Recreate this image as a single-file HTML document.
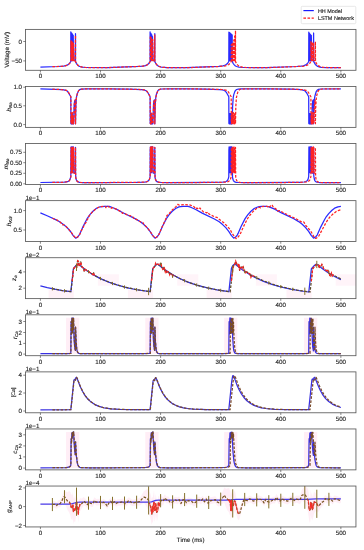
<!DOCTYPE html>
<html><head><meta charset="utf-8"><style>
html,body{margin:0;padding:0;background:#fff;overflow:hidden}
svg{display:block;will-change:transform}
text{font-family:"Liberation Sans", sans-serif;font-size:6.2px;fill:#1a1a1a;stroke:#1a1a1a;stroke-width:0.12px;text-rendering:geometricPrecision}
</style></head><body>
<svg width="364" height="550" viewBox="0 0 364 550">
<rect width="364" height="550" fill="#fff"/>
<defs><clipPath id="c0"><rect x="25.45" y="29.4" width="330.5" height="40.9"/></clipPath></defs>
<g clip-path="url(#c0)">
<path d="M40.4,67.2 58.1,66.5 63.5,66.1 65.5,65.7 67.1,65.2 68.4,64.4 69.5,63.4 70.8,61.5 70.8,31.8 71.3,60.5 71.4,60.5 71.5,56.6 71.7,33.0 72.1,60.5 72.3,60.5 72.3,56.7 72.5,34.1 73.0,60.5 73.2,35.3 73.7,60.5 75.2,60.5 75.5,33.7 75.5,61.6 76.4,63.3 77.3,64.6 78.4,65.7 79.7,66.5 82.2,67.2 85.8,67.5 108.1,67.6 138.9,66.4 142.9,66.1 145.5,65.6 147.0,64.9 148.2,64.1 149.2,63.0 150.1,61.5 150.1,31.8 150.6,60.5 150.7,60.5 150.8,56.6 151.0,33.4 151.5,60.5 151.6,60.5 151.6,56.9 151.8,34.9 152.3,60.5 152.5,36.5 153.0,60.5 154.5,60.5 154.8,33.7 154.8,61.6 156.0,63.8 157.4,65.4 159.1,66.5 161.3,67.1 167.1,67.6 186.8,67.6 218.8,66.4 222.9,65.9 225.5,65.0 227.4,63.6 228.8,61.5 228.9,32.2 229.3,60.5 229.5,60.5 229.5,56.5 229.7,32.6 230.2,60.5 230.3,60.5 230.4,56.6 230.5,33.4 231.0,60.5 231.1,60.5 231.2,56.7 231.4,34.1 231.9,60.5 232.0,60.5 232.2,34.9 232.3,61.6 233.1,63.3 234.1,64.6 235.2,65.7 236.5,66.5 239.0,67.2 242.7,67.5 266.7,67.6 296.8,66.5 300.7,66.2 303.3,65.8 305.1,65.2 306.5,64.3 307.7,63.1 308.7,61.5 308.8,32.2 309.3,60.5 309.4,60.5 309.4,56.6 309.6,33.4 310.1,60.5 310.2,60.5 310.3,56.8 310.5,34.5 310.9,60.5 311.1,60.5 311.1,56.9 311.3,35.3 311.8,60.5 313.4,60.5 313.6,33.0 313.7,61.6 315.3,64.4 316.4,65.5 317.7,66.4 319.2,66.9 321.2,67.3 326.3,67.6 340.9,67.6" fill="none" stroke="#2a2aff" stroke-width="1.25" stroke-linejoin="round"/><path d="M52.4,66.7 61.3,66.3 65.3,65.8 66.8,65.4 68.1,64.8 69.1,63.9 70.1,62.8 70.9,61.5 70.9,40.7 71.4,60.5 71.6,57.8 71.8,41.5 72.3,60.5 72.4,57.9 72.6,42.3 73.1,60.5 73.3,43.4 73.8,60.5 75.2,60.5 75.5,35.3 75.5,61.6 76.4,63.4 77.4,64.7 78.5,65.8 79.8,66.5 82.3,67.2 86.0,67.5 108.2,67.6 139.0,66.4 143.0,66.1 145.6,65.6 147.0,65.0 148.2,64.1 149.3,63.0 150.2,61.5 150.3,35.7 150.7,60.5 150.9,60.5 150.9,57.1 151.1,36.8 151.6,60.5 151.8,57.4 151.9,38.4 152.4,60.5 152.7,39.6 153.1,60.5 154.6,60.5 154.8,34.9 154.9,61.6 155.8,63.4 156.8,64.7 157.8,65.7 159.2,66.5 161.7,67.2 165.4,67.5 189.2,67.6 218.8,66.5 225.3,65.9 227.2,65.3 228.8,64.5 230.1,63.2 231.2,61.5 231.3,44.6 231.7,60.5 231.9,60.5 232.1,43.8 232.6,60.5 232.7,60.5 232.9,42.3 233.4,60.5 233.5,60.5 233.8,39.9 234.3,60.5 234.4,60.5 234.6,36.1 235.1,60.5 235.2,60.5 235.5,30.6 235.5,61.6 236.5,63.5 237.6,64.9 238.8,66.0 240.4,66.7 242.9,67.3 246.5,67.5 268.9,67.6 299.8,66.4 303.9,66.1 306.4,65.5 307.8,64.9 309.0,64.0 310.0,63.0 310.9,61.5 310.9,41.5 311.4,60.5 311.6,57.8 311.8,41.5 312.3,60.5 312.4,57.9 312.6,42.3 313.1,60.5 313.3,58.0 313.5,42.7 313.9,60.5 315.2,60.5 315.4,41.5 315.5,61.6 316.5,63.6 317.6,65.0 318.7,65.9 319.9,66.6 323.2,67.3 328.1,67.6 340.9,67.6" fill="none" stroke="#ff2222" stroke-width="1.25" stroke-dasharray="2.6,1.5" stroke-linejoin="round"/>
</g>
<rect x="25.45" y="29.4" width="330.5" height="40.9" fill="none" stroke="#5a5a5a" stroke-width="0.85"/>
<line x1="23.25" y1="41.5" x2="25.45" y2="41.5" stroke="#3a3a3a" stroke-width="0.6"/>
<text x="22.05" y="43.55" text-anchor="end">0</text>
<line x1="23.25" y1="60.9" x2="25.45" y2="60.9" stroke="#3a3a3a" stroke-width="0.6"/>
<text x="22.05" y="62.949999999999996" text-anchor="end">−50</text>
<line x1="40.42" y1="70.3" x2="40.42" y2="72.5" stroke="#3a3a3a" stroke-width="0.6"/>
<text x="40.42" y="78.3" text-anchor="middle">0</text>
<line x1="100.51" y1="70.3" x2="100.51" y2="72.5" stroke="#3a3a3a" stroke-width="0.6"/>
<text x="100.51" y="78.3" text-anchor="middle">100</text>
<line x1="160.60" y1="70.3" x2="160.60" y2="72.5" stroke="#3a3a3a" stroke-width="0.6"/>
<text x="160.60" y="78.3" text-anchor="middle">200</text>
<line x1="220.69" y1="70.3" x2="220.69" y2="72.5" stroke="#3a3a3a" stroke-width="0.6"/>
<text x="220.69" y="78.3" text-anchor="middle">300</text>
<line x1="280.78" y1="70.3" x2="280.78" y2="72.5" stroke="#3a3a3a" stroke-width="0.6"/>
<text x="280.78" y="78.3" text-anchor="middle">400</text>
<line x1="340.87" y1="70.3" x2="340.87" y2="72.5" stroke="#3a3a3a" stroke-width="0.6"/>
<text x="340.87" y="78.3" text-anchor="middle">500</text>
<text transform="translate(8.6,49.849999999999994) rotate(-90)" text-anchor="middle">Voltage (mV)</text>
<defs><clipPath id="c1"><rect x="25.45" y="86.47999999999999" width="330.5" height="40.9"/></clipPath></defs>
<g clip-path="url(#c1)">
<path d="M40.4,88.9 62.7,89.6 65.8,90.3 66.8,90.8 67.7,91.6 68.8,93.2 70.8,96.8 70.9,123.1 70.9,123.7 71.2,123.8 71.2,122.7 71.4,113.6 71.5,122.3 71.6,123.6 71.8,123.9 72.0,123.8 72.1,122.6 72.3,113.5 72.4,123.6 72.6,123.8 72.9,123.7 73.0,118.7 73.2,123.7 73.4,123.9 73.6,123.7 74.2,104.6 74.6,101.2 75.2,99.9 75.5,123.8 75.9,105.2 76.5,96.8 77.4,93.4 78.5,90.9 79.6,89.7 81.3,89.1 86.4,88.9 108.1,88.9 129.4,89.2 141.4,89.6 143.9,89.9 145.6,90.5 146.7,91.2 147.6,92.3 150.1,96.8 150.2,123.1 150.3,123.7 150.5,123.8 150.6,122.7 150.7,113.6 150.9,122.3 150.9,123.6 151.2,123.9 151.3,123.7 151.4,122.6 151.6,113.5 151.8,123.6 151.9,123.8 152.2,123.7 152.4,118.5 152.5,123.7 152.8,123.8 152.9,123.6 153.5,104.6 153.9,101.1 154.5,99.9 154.8,123.8 155.2,105.2 155.8,97.2 156.5,94.0 157.6,91.2 158.6,89.9 160.1,89.2 162.8,89.0 169.0,88.9 187.3,88.9 206.3,89.1 219.8,89.6 222.6,89.9 224.3,90.5 225.4,91.2 226.3,92.3 228.8,96.8 228.9,123.1 229.0,123.7 229.2,123.8 229.5,113.6 229.6,122.3 229.6,123.6 229.9,123.9 230.1,123.8 230.1,122.7 230.3,113.6 230.5,123.6 230.6,123.8 230.9,123.7 231.1,113.5 231.3,123.6 231.4,123.8 231.7,123.7 232.0,113.5 232.2,123.8 232.6,106.8 233.2,97.6 233.7,94.9 234.7,91.9 235.5,90.4 236.6,89.5 238.3,89.1 241.4,88.9 266.8,88.9 291.4,89.2 301.4,89.7 303.8,90.3 305.4,91.3 306.7,93.0 308.7,96.8 308.8,123.1 308.9,123.7 309.1,123.8 309.4,113.6 309.5,122.3 309.6,123.6 309.8,123.9 310.0,123.7 310.0,122.6 310.2,113.5 310.4,123.6 310.5,123.8 310.8,123.7 311.1,113.4 311.2,123.6 311.4,123.8 311.7,123.7 312.3,104.6 312.7,101.2 313.0,100.3 313.4,99.8 313.6,123.8 314.0,106.8 314.5,98.6 314.9,96.2 315.5,93.8 316.2,91.7 317.1,90.3 318.5,89.4 320.9,89.0 340.9,88.9" fill="none" stroke="#2a2aff" stroke-width="1.25" stroke-linejoin="round"/><path d="M52.4,89.2 61.8,89.6 65.7,90.2 66.9,90.7 67.9,91.6 70.2,95.3 70.9,96.8 71.0,123.1 71.1,123.8 71.3,123.2 71.6,112.7 71.7,121.8 71.7,123.5 71.9,123.8 72.1,123.8 72.1,123.3 72.4,112.5 72.6,123.5 72.8,123.8 73.0,123.2 73.2,116.6 73.3,122.8 73.4,123.8 73.6,123.6 74.3,105.2 74.6,101.6 75.2,100.0 75.5,123.8 75.9,105.2 76.5,96.8 77.4,93.4 78.5,90.9 79.6,89.7 81.3,89.1 86.4,88.9 108.2,88.9 129.6,89.2 141.5,89.6 144.0,89.9 145.7,90.5 146.8,91.2 147.7,92.3 150.2,96.8 150.3,123.1 150.4,123.7 150.5,123.8 150.6,123.7 150.9,113.3 151.0,122.1 151.0,123.6 151.3,123.9 151.5,123.6 151.7,113.2 151.9,123.6 152.1,123.9 152.3,123.5 152.5,117.7 152.6,123.7 152.9,123.8 153.0,123.4 153.6,105.4 154.0,101.4 154.6,99.9 154.8,123.8 155.3,105.2 155.9,97.2 156.6,94.0 157.7,91.2 158.7,89.9 160.1,89.2 162.7,89.0 168.4,88.9 189.6,88.9 206.7,89.1 221.8,89.5 224.7,89.9 226.6,90.4 227.7,91.1 228.6,92.2 231.2,96.8 231.3,123.1 231.4,123.8 231.6,122.8 231.9,111.9 232.0,122.1 232.1,123.6 232.2,123.8 232.4,123.6 232.8,112.2 232.8,121.7 232.9,123.5 233.1,123.8 233.2,123.7 233.3,123.2 233.5,112.6 233.7,123.5 233.8,123.8 234.0,123.8 234.2,123.4 234.4,112.9 234.6,123.6 234.7,123.8 235.0,123.7 235.2,113.3 235.5,123.8 235.8,106.8 236.4,97.6 237.0,94.9 237.9,91.9 238.8,90.4 239.9,89.5 241.5,89.1 244.5,88.9 269.0,88.9 293.6,89.2 303.6,89.7 306.0,90.3 307.6,91.3 308.8,93.0 310.9,96.8 311.1,123.7 311.2,123.7 311.3,123.3 311.6,112.6 311.7,123.5 312.0,123.8 312.1,123.3 312.4,112.5 312.6,123.5 312.7,123.8 312.9,123.7 313.3,112.4 313.3,121.7 313.4,123.5 313.6,123.8 313.8,123.7 313.8,123.2 314.2,108.9 314.7,102.0 315.2,100.2 315.4,123.7 315.7,108.6 316.2,99.2 316.5,96.5 317.1,94.2 317.9,91.8 318.7,90.4 320.0,89.4 322.4,89.0 340.9,88.9" fill="none" stroke="#ff2222" stroke-width="1.25" stroke-dasharray="2.6,1.5" stroke-linejoin="round"/>
</g>
<rect x="25.45" y="86.47999999999999" width="330.5" height="40.9" fill="none" stroke="#5a5a5a" stroke-width="0.85"/>
<line x1="23.25" y1="87.2" x2="25.45" y2="87.2" stroke="#3a3a3a" stroke-width="0.6"/>
<text x="22.05" y="89.25" text-anchor="end">1.0</text>
<line x1="23.25" y1="105.8" x2="25.45" y2="105.8" stroke="#3a3a3a" stroke-width="0.6"/>
<text x="22.05" y="107.85" text-anchor="end">0.5</text>
<line x1="23.25" y1="124.6" x2="25.45" y2="124.6" stroke="#3a3a3a" stroke-width="0.6"/>
<text x="22.05" y="126.64999999999999" text-anchor="end">0.0</text>
<line x1="40.42" y1="127.38" x2="40.42" y2="129.57999999999998" stroke="#3a3a3a" stroke-width="0.6"/>
<text x="40.42" y="135.38" text-anchor="middle">0</text>
<line x1="100.51" y1="127.38" x2="100.51" y2="129.57999999999998" stroke="#3a3a3a" stroke-width="0.6"/>
<text x="100.51" y="135.38" text-anchor="middle">100</text>
<line x1="160.60" y1="127.38" x2="160.60" y2="129.57999999999998" stroke="#3a3a3a" stroke-width="0.6"/>
<text x="160.60" y="135.38" text-anchor="middle">200</text>
<line x1="220.69" y1="127.38" x2="220.69" y2="129.57999999999998" stroke="#3a3a3a" stroke-width="0.6"/>
<text x="220.69" y="135.38" text-anchor="middle">300</text>
<line x1="280.78" y1="127.38" x2="280.78" y2="129.57999999999998" stroke="#3a3a3a" stroke-width="0.6"/>
<text x="280.78" y="135.38" text-anchor="middle">400</text>
<line x1="340.87" y1="127.38" x2="340.87" y2="129.57999999999998" stroke="#3a3a3a" stroke-width="0.6"/>
<text x="340.87" y="135.38" text-anchor="middle">500</text>
<text transform="translate(11.200000000000001,106.92999999999999) rotate(-90)" text-anchor="middle"><tspan font-style="italic">h</tspan><tspan font-style="italic" font-size="4.3" dy="1.1">Na</tspan></text>
<defs><clipPath id="c2"><rect x="25.45" y="143.56" width="330.5" height="40.9"/></clipPath></defs>
<g clip-path="url(#c2)">
<path d="M40.4,182.5 64.4,182.2 67.5,181.7 68.4,181.3 69.2,180.7 70.1,179.1 70.8,176.6 71.0,147.2 71.1,147.0 71.1,147.1 71.2,148.5 71.4,172.6 71.5,152.0 71.7,147.4 71.8,146.9 72.0,148.7 72.3,172.6 72.4,148.6 72.6,147.0 72.7,146.9 72.9,149.0 73.0,167.3 73.2,148.5 73.4,146.9 73.6,149.3 73.8,172.6 74.0,173.2 75.2,173.2 75.5,147.4 75.6,173.6 75.8,177.6 76.3,179.8 77.0,181.1 78.0,181.9 79.6,182.3 83.1,182.6 91.3,182.6 136.4,182.4 144.3,182.1 146.1,181.9 147.4,181.5 148.3,180.8 149.1,179.9 149.6,178.6 150.1,176.6 150.2,150.2 150.4,147.0 150.7,172.6 150.9,152.0 151.0,147.4 151.2,146.9 151.3,148.8 151.6,172.6 151.8,148.7 151.9,147.0 152.1,146.9 152.2,149.2 152.3,167.5 152.5,148.6 152.7,146.9 152.9,149.7 153.1,172.6 153.3,173.2 154.5,173.2 154.8,147.4 155.0,177.1 155.4,179.2 156.1,180.8 157.0,181.7 158.3,182.2 161.1,182.5 167.0,182.6 212.9,182.4 222.6,182.2 224.7,181.9 226.2,181.5 227.1,180.8 227.8,179.9 228.3,178.6 228.8,176.6 228.9,150.2 229.1,147.0 229.5,172.6 229.6,151.9 229.7,147.4 229.9,146.9 230.1,148.6 230.3,172.6 230.5,147.4 230.8,146.9 230.9,148.8 231.1,172.6 231.3,148.6 231.4,147.0 231.6,146.9 231.7,149.0 232.0,172.6 232.2,147.4 232.5,177.1 232.8,178.8 233.3,180.3 234.0,181.3 234.8,181.9 236.0,182.3 237.9,182.5 245.8,182.6 289.8,182.4 299.9,182.3 303.9,182.0 305.9,181.5 307.2,180.7 308.1,179.1 308.7,176.6 308.9,147.9 309.0,147.0 309.1,148.5 309.4,172.6 309.5,152.0 309.6,147.4 309.8,146.9 310.0,148.8 310.2,172.6 310.4,148.6 310.5,147.0 310.7,146.9 310.8,149.1 311.1,172.6 311.2,152.3 311.3,147.5 311.5,146.9 311.7,149.3 311.8,171.3 312.0,173.0 312.1,173.2 313.4,173.2 313.6,147.4 313.8,176.1 314.3,179.0 314.7,180.3 315.3,181.2 315.9,181.7 316.8,182.1 319.5,182.5 340.9,182.6" fill="none" stroke="#2a2aff" stroke-width="1.25" stroke-linejoin="round"/><path d="M52.4,182.4 62.3,182.3 66.3,182.0 68.5,181.3 69.3,180.7 69.9,179.9 70.4,178.6 70.9,176.6 71.1,147.3 71.5,172.7 71.7,149.2 71.9,147.0 72.1,148.6 72.4,172.7 72.6,147.7 72.8,147.1 72.9,148.8 73.1,168.7 73.3,149.4 73.5,147.0 73.6,149.3 74.0,172.8 74.1,173.2 75.2,173.2 75.5,147.5 75.7,177.1 76.1,179.2 76.8,180.8 77.7,181.7 79.0,182.2 81.8,182.5 87.7,182.6 134.1,182.4 144.0,182.2 146.1,181.9 147.6,181.5 148.5,180.8 149.2,179.9 149.7,178.6 150.2,176.6 150.4,147.2 150.6,149.4 150.9,172.6 151.0,148.8 151.3,146.9 151.5,149.8 151.7,172.6 151.9,147.5 152.1,146.9 152.2,147.8 152.4,168.0 152.6,148.8 152.8,146.9 153.3,172.7 153.4,173.2 154.6,173.2 154.8,147.5 155.1,177.1 155.4,178.8 155.9,180.3 156.6,181.3 157.5,181.9 159.3,182.4 162.7,182.6 189.2,182.6 220.5,182.3 224.7,182.2 227.1,181.9 228.7,181.4 229.8,180.4 230.6,178.9 231.2,176.6 231.4,147.6 231.9,172.8 232.0,149.6 232.2,147.2 232.3,147.8 232.7,172.8 232.9,149.4 233.0,147.1 233.1,147.1 233.2,147.5 233.5,172.7 233.7,149.1 233.8,147.1 234.0,147.0 234.0,147.2 234.4,172.7 234.6,148.7 234.8,146.9 235.0,149.6 235.2,172.6 235.5,147.4 235.7,177.1 236.1,179.0 236.7,180.6 237.5,181.5 238.5,182.1 240.8,182.5 245.3,182.6 285.1,182.5 303.5,182.2 306.4,182.0 308.2,181.5 309.1,180.8 309.9,179.9 310.4,178.6 310.9,176.6 311.1,147.4 311.5,172.7 311.7,149.2 311.9,147.0 312.1,148.6 312.4,172.7 312.6,147.7 312.8,147.1 312.9,148.8 313.2,172.7 313.4,149.4 313.6,147.0 313.8,149.0 314.0,171.8 314.1,173.1 314.3,173.2 315.2,173.2 315.4,147.7 315.6,176.1 316.0,179.0 317.0,181.1 317.6,181.7 318.4,182.1 321.0,182.5 340.9,182.6" fill="none" stroke="#ff2222" stroke-width="1.25" stroke-dasharray="2.6,1.5" stroke-linejoin="round"/>
</g>
<rect x="25.45" y="143.56" width="330.5" height="40.9" fill="none" stroke="#5a5a5a" stroke-width="0.85"/>
<line x1="23.25" y1="152.3" x2="25.45" y2="152.3" stroke="#3a3a3a" stroke-width="0.6"/>
<text x="22.05" y="154.35000000000002" text-anchor="end">0.75</text>
<line x1="23.25" y1="162.7" x2="25.45" y2="162.7" stroke="#3a3a3a" stroke-width="0.6"/>
<text x="22.05" y="164.75" text-anchor="end">0.50</text>
<line x1="23.25" y1="173.3" x2="25.45" y2="173.3" stroke="#3a3a3a" stroke-width="0.6"/>
<text x="22.05" y="175.35000000000002" text-anchor="end">0.25</text>
<line x1="23.25" y1="183.8" x2="25.45" y2="183.8" stroke="#3a3a3a" stroke-width="0.6"/>
<text x="22.05" y="185.85000000000002" text-anchor="end">0.00</text>
<line x1="40.42" y1="184.46" x2="40.42" y2="186.66" stroke="#3a3a3a" stroke-width="0.6"/>
<text x="40.42" y="192.46" text-anchor="middle">0</text>
<line x1="100.51" y1="184.46" x2="100.51" y2="186.66" stroke="#3a3a3a" stroke-width="0.6"/>
<text x="100.51" y="192.46" text-anchor="middle">100</text>
<line x1="160.60" y1="184.46" x2="160.60" y2="186.66" stroke="#3a3a3a" stroke-width="0.6"/>
<text x="160.60" y="192.46" text-anchor="middle">200</text>
<line x1="220.69" y1="184.46" x2="220.69" y2="186.66" stroke="#3a3a3a" stroke-width="0.6"/>
<text x="220.69" y="192.46" text-anchor="middle">300</text>
<line x1="280.78" y1="184.46" x2="280.78" y2="186.66" stroke="#3a3a3a" stroke-width="0.6"/>
<text x="280.78" y="192.46" text-anchor="middle">400</text>
<line x1="340.87" y1="184.46" x2="340.87" y2="186.66" stroke="#3a3a3a" stroke-width="0.6"/>
<text x="340.87" y="192.46" text-anchor="middle">500</text>
<text transform="translate(7.7,164.01) rotate(-90)" text-anchor="middle"><tspan font-style="italic">m</tspan><tspan font-style="italic" font-size="4.3" dy="1.1">Na</tspan></text>
<defs><clipPath id="c3"><rect x="25.45" y="200.64000000000001" width="330.5" height="40.9"/></clipPath></defs>
<g clip-path="url(#c3)">
<path d="M40.4,212.9 47.7,216.0 55.6,219.6 59.2,221.5 62.1,223.4 65.3,225.9 68.2,228.8 70.9,232.0 73.2,235.6 75.6,238.1 77.6,237.1 79.1,235.2 80.0,233.6 83.3,226.1 87.3,218.3 90.1,214.4 93.2,211.0 96.5,208.3 100.0,206.8 104.6,206.3 109.3,206.4 111.8,207.3 116.7,209.4 122.9,212.8 135.5,218.9 140.4,221.8 143.8,224.5 147.3,227.9 150.2,231.6 152.5,235.4 155.0,238.1 156.9,237.0 158.4,235.1 159.4,233.4 162.5,226.3 166.4,218.6 169.0,214.9 172.0,211.5 175.6,208.5 178.9,206.9 180.5,206.6 183.1,206.3 188.0,206.3 190.7,207.2 195.7,209.5 202.2,213.1 214.4,219.0 219.2,221.8 222.6,224.6 226.0,227.9 228.9,231.6 231.3,235.4 233.7,238.1 235.7,237.0 237.2,235.1 238.1,233.4 241.2,226.3 245.1,218.6 247.7,214.9 250.7,211.5 254.2,208.5 257.6,207.0 259.1,206.6 261.6,206.3 266.6,206.3 269.1,206.9 274.7,209.2 281.0,212.6 293.8,218.7 298.7,221.6 302.2,224.3 305.8,227.8 308.8,231.6 311.2,235.4 313.6,238.1 315.6,237.0 317.3,234.8 320.7,227.1 324.5,219.7 326.2,216.8 328.7,213.6 332.0,210.2 334.6,208.2 337.9,206.8 340.9,206.4" fill="none" stroke="#2a2aff" stroke-width="1.25" stroke-linejoin="round"/><path d="M52.4,218.2 55.4,219.5 56.7,219.8 58.0,220.8 60.2,222.1 60.9,222.8 62.1,224.9 62.4,224.9 63.1,224.5 63.5,224.5 64.9,225.5 67.3,227.7 69.2,229.8 71.1,232.1 73.6,235.8 75.8,238.1 77.7,237.0 79.3,235.1 80.1,233.6 81.5,230.3 82.9,228.3 84.5,224.2 86.1,222.4 87.4,219.3 88.2,218.5 89.2,215.8 92.4,211.9 96.0,208.7 99.5,206.8 104.9,206.3 105.3,206.5 105.9,207.7 106.7,206.4 107.7,206.3 108.4,206.6 110.5,208.4 111.0,208.4 111.9,207.7 112.5,207.6 116.4,209.2 121.5,212.0 122.4,213.3 123.3,213.0 128.9,215.5 130.3,215.7 131.3,216.2 132.3,216.4 132.8,216.9 134.5,219.3 136.4,219.4 141.6,222.5 142.0,222.6 142.9,222.5 143.9,224.6 144.9,225.3 148.2,228.9 150.4,231.7 152.6,235.4 155.1,238.1 157.2,236.8 159.2,233.9 161.8,227.5 165.8,219.1 167.0,215.3 168.2,214.9 171.5,210.8 176.0,206.6 177.4,204.6 177.9,204.4 178.9,205.0 179.5,205.1 184.5,204.6 188.2,204.8 190.4,205.1 193.7,206.5 194.4,207.1 195.6,208.9 196.9,208.1 197.4,208.3 198.3,209.2 198.7,209.3 199.7,208.2 200.0,208.0 201.3,210.1 202.7,211.1 203.7,212.1 204.9,212.1 206.8,212.8 207.9,212.0 208.9,213.7 209.4,214.2 215.0,217.0 217.0,217.4 218.6,219.0 221.6,221.0 223.8,222.8 227.8,226.7 230.2,229.6 232.0,233.2 236.1,238.7 236.7,237.9 238.4,236.7 239.7,235.0 240.5,233.4 243.6,226.4 247.6,218.5 250.2,214.8 253.2,211.4 256.4,208.6 259.2,207.2 259.7,207.2 260.4,207.8 261.2,206.8 261.6,206.6 267.0,206.3 267.7,206.5 268.5,207.5 268.8,207.7 269.6,206.7 270.5,206.1 271.4,205.0 271.8,204.8 272.2,205.2 273.4,207.5 275.9,208.9 277.5,211.0 278.0,211.0 279.0,210.6 279.6,210.7 283.5,212.8 295.9,218.7 301.5,221.9 302.1,222.0 303.0,221.7 303.6,221.9 304.2,222.6 305.5,225.2 308.5,228.5 311.1,231.7 314.5,237.9 314.9,238.2 315.8,238.4 317.8,237.1 318.9,235.8 326.3,222.1 327.9,219.6 329.9,217.0 332.7,214.3 335.9,211.7 338.2,210.6 340.9,209.8" fill="none" stroke="#ff2222" stroke-width="1.25" stroke-dasharray="2.6,1.5" stroke-linejoin="round"/>
</g>
<rect x="25.45" y="200.64000000000001" width="330.5" height="40.9" fill="none" stroke="#5a5a5a" stroke-width="0.85"/>
<line x1="23.25" y1="210.6" x2="25.45" y2="210.6" stroke="#3a3a3a" stroke-width="0.6"/>
<text x="22.05" y="212.65" text-anchor="end">1.0</text>
<line x1="23.25" y1="230.0" x2="25.45" y2="230.0" stroke="#3a3a3a" stroke-width="0.6"/>
<text x="22.05" y="232.05" text-anchor="end">0.5</text>
<line x1="40.42" y1="241.54000000000002" x2="40.42" y2="243.74" stroke="#3a3a3a" stroke-width="0.6"/>
<text x="40.42" y="249.54000000000002" text-anchor="middle">0</text>
<line x1="100.51" y1="241.54000000000002" x2="100.51" y2="243.74" stroke="#3a3a3a" stroke-width="0.6"/>
<text x="100.51" y="249.54000000000002" text-anchor="middle">100</text>
<line x1="160.60" y1="241.54000000000002" x2="160.60" y2="243.74" stroke="#3a3a3a" stroke-width="0.6"/>
<text x="160.60" y="249.54000000000002" text-anchor="middle">200</text>
<line x1="220.69" y1="241.54000000000002" x2="220.69" y2="243.74" stroke="#3a3a3a" stroke-width="0.6"/>
<text x="220.69" y="249.54000000000002" text-anchor="middle">300</text>
<line x1="280.78" y1="241.54000000000002" x2="280.78" y2="243.74" stroke="#3a3a3a" stroke-width="0.6"/>
<text x="280.78" y="249.54000000000002" text-anchor="middle">400</text>
<line x1="340.87" y1="241.54000000000002" x2="340.87" y2="243.74" stroke="#3a3a3a" stroke-width="0.6"/>
<text x="340.87" y="249.54000000000002" text-anchor="middle">500</text>
<text transform="translate(10.5,221.09) rotate(-90)" text-anchor="middle"><tspan font-style="italic">h</tspan><tspan font-style="italic" font-size="4.3" dy="1.1">Kdr</tspan></text>
<text x="25.45" y="199.84">1e−1</text>
<defs><clipPath id="c4"><rect x="25.45" y="257.71999999999997" width="330.5" height="40.9"/></clipPath></defs>
<g clip-path="url(#c4)">
<rect x="48.6" y="289.8" width="25.2" height="11.0" fill="#ff4499" fill-opacity="0.07"/><rect x="97.9" y="274.3" width="21.0" height="11.4" fill="#ff4499" fill-opacity="0.06"/><rect x="127.9" y="289.8" width="25.2" height="11.0" fill="#ff4499" fill-opacity="0.07"/><rect x="177.2" y="274.3" width="21.0" height="11.4" fill="#ff4499" fill-opacity="0.06"/><rect x="206.6" y="289.8" width="25.2" height="11.0" fill="#ff4499" fill-opacity="0.07"/><rect x="255.9" y="274.3" width="21.0" height="11.4" fill="#ff4499" fill-opacity="0.06"/><rect x="286.5" y="289.8" width="25.2" height="11.0" fill="#ff4499" fill-opacity="0.07"/><rect x="335.8" y="274.3" width="21.0" height="11.4" fill="#ff4499" fill-opacity="0.06"/><path d="M40.4,285.9 47.3,287.6 54.6,289.2 62.4,290.6 70.8,291.7 73.4,268.6 76.5,265.0 77.4,264.4 78.4,264.2 85.5,269.7 92.6,274.4 100.4,278.6 108.7,282.1 117.7,285.2 127.5,287.8 138.2,290.0 150.1,291.7 152.7,268.6 155.7,265.1 156.7,264.4 157.7,264.2 165.0,269.9 172.0,274.4 179.6,278.5 187.9,282.1 196.8,285.2 206.5,287.7 217.1,289.9 228.9,291.6 231.4,268.6 232.5,265.9 233.7,264.7 235.0,264.2 235.2,264.2 242.6,270.0 248.9,274.1 256.0,278.0 263.6,281.4 271.9,284.4 280.8,287.0 290.6,289.1 301.2,291.0 308.8,292.0 311.4,268.6 314.6,265.2 316.0,264.3 316.7,264.2 322.8,269.1 329.3,273.5 335.0,276.7 340.9,279.6" fill="none" stroke="#3030e8" stroke-width="1.25" stroke-linejoin="round"/><path d="M52.4,288.7 61.3,290.4 71.0,291.7 73.6,268.6 75.9,266.0 76.2,266.2 76.8,268.0 77.5,261.4 77.7,260.7 78.5,261.6 79.1,266.3 80.0,264.6 80.6,262.2 80.7,261.9 80.8,262.0 81.6,266.3 82.1,267.0 83.6,268.2 84.2,271.2 84.5,269.4 84.8,269.1 89.2,272.1 91.9,273.8 92.9,274.7 93.1,274.5 93.6,272.7 94.0,274.8 94.3,275.3 99.4,278.0 104.9,280.5 114.6,284.2 125.3,287.2 137.1,289.7 150.3,291.7 152.9,268.6 155.0,266.1 155.6,263.4 156.1,264.8 157.2,264.3 158.0,264.2 159.4,265.2 159.7,264.9 160.2,263.7 160.8,264.5 161.1,263.3 161.6,266.8 162.3,268.0 162.8,269.4 164.0,267.2 165.3,272.1 165.9,270.8 166.7,272.4 167.4,271.6 167.8,271.7 169.0,272.6 169.6,274.7 170.2,273.5 170.5,273.4 172.0,274.4 172.6,276.2 173.1,275.2 173.4,275.2 179.8,278.5 186.5,281.5 193.6,284.1 201.2,286.4 207.8,288.0 214.7,289.4 222.2,290.7 230.2,291.8 232.8,268.6 233.5,266.2 234.8,264.5 235.7,261.2 236.7,264.1 237.2,264.7 237.8,264.3 238.4,266.3 238.9,264.6 239.0,264.6 239.6,270.4 240.3,267.4 241.1,267.7 241.6,267.0 242.3,268.3 242.9,267.0 243.2,266.8 244.0,269.7 245.3,272.8 245.6,272.9 246.2,272.0 246.6,271.9 249.7,273.8 250.1,274.5 250.9,277.2 251.5,275.3 251.9,275.1 257.0,277.9 261.8,280.1 266.9,282.2 272.3,284.1 278.0,285.9 284.0,287.4 297.1,290.1 310.1,292.0 312.7,268.6 315.9,265.1 317.4,264.2 318.0,264.2 318.5,264.7 319.1,268.2 319.7,265.8 321.1,266.6 321.9,264.5 322.5,266.2 323.1,266.9 323.7,268.6 324.2,269.2 326.5,270.7 326.8,270.5 327.5,269.3 328.3,271.7 329.2,273.0 329.8,275.3 330.5,276.1 330.7,275.9 331.4,273.1 332.2,275.9 332.6,275.0 332.9,274.9 340.9,279.0" fill="none" stroke="#5a4a2a" stroke-width="1.25" stroke-dasharray="2.6,1.5" stroke-linejoin="round"/><path d="M72.2,281.0 73.6,268.6 75.9,266.0 76.2,266.2 76.8,268.0 77.5,261.4 77.7,260.7 78.5,261.6 79.1,266.3 80.0,264.6 80.6,262.2 80.7,261.9 80.8,262.0 81.6,266.3 82.1,267.0 83.6,268.2 84.2,271.2 84.5,269.4 84.8,269.1 89.2,272.1 91.9,273.8 92.9,274.7 93.1,274.5 93.6,272.7 94.1,275.0 95.0,275.7" fill="none" stroke="#ff2222" stroke-width="1.25" stroke-dasharray="2.6,1.5"/><path d="M151.5,281.0 152.9,268.6 155.0,266.1 155.6,263.4 156.1,264.8 157.2,264.3 158.0,264.2 159.4,265.2 159.7,264.9 160.2,263.7 160.8,264.5 161.1,263.3 161.6,266.8 162.3,268.0 162.7,269.3 162.8,269.5 162.9,269.4 163.8,267.4 164.1,267.2 165.3,272.1 165.9,270.8 166.7,272.4 167.5,271.6 169.0,272.5 169.7,274.7 170.1,273.6 170.4,273.4 172.0,274.4 172.6,276.2 173.2,275.1 174.4,275.7" fill="none" stroke="#ff2222" stroke-width="1.25" stroke-dasharray="2.6,1.5"/><path d="M231.4,281.0 232.8,268.6 233.5,266.2 234.8,264.5 235.7,261.2 236.7,264.1 237.2,264.7 237.8,264.3 238.4,266.3 238.9,264.6 239.0,264.6 239.6,270.4 240.3,267.4 241.1,267.7 241.6,267.0 242.3,268.3 243.1,266.8 244.0,269.7 245.3,272.9 245.6,272.9 246.2,272.0 246.6,271.9 249.7,273.8 250.1,274.5 250.9,277.2 251.5,275.4 251.8,275.1 254.2,276.4" fill="none" stroke="#ff2222" stroke-width="1.25" stroke-dasharray="2.6,1.5"/><path d="M311.3,281.1 312.7,268.6 315.9,265.1 317.4,264.2 318.0,264.2 318.5,264.7 319.1,268.2 319.7,265.8 321.1,266.6 321.9,264.5 322.5,266.2 323.1,266.9 323.7,268.6 324.2,269.2 326.5,270.7 326.8,270.5 327.5,269.3 328.3,271.7 329.2,273.0 329.8,275.3 330.5,276.1 330.7,275.9 331.4,273.1 332.2,275.9 332.8,274.9 334.1,275.6" fill="none" stroke="#ff2222" stroke-width="1.25" stroke-dasharray="2.6,1.5"/><line x1="52.4" y1="290.4" x2="52.4" y2="287.1" stroke="#806a22" stroke-width="0.95"/><line x1="64.5" y1="292.5" x2="64.5" y2="289.2" stroke="#806a22" stroke-width="0.95"/><line x1="76.5" y1="271.0" x2="76.5" y2="263.6" stroke="#806a22" stroke-width="0.95"/><line x1="88.5" y1="273.3" x2="88.5" y2="270.1" stroke="#806a22" stroke-width="0.95"/><line x1="100.5" y1="280.2" x2="100.5" y2="276.9" stroke="#806a22" stroke-width="0.95"/><line x1="112.5" y1="285.1" x2="112.5" y2="281.9" stroke="#806a22" stroke-width="0.95"/><line x1="124.5" y1="288.7" x2="124.5" y2="285.4" stroke="#806a22" stroke-width="0.95"/><line x1="136.6" y1="291.3" x2="136.6" y2="288.0" stroke="#806a22" stroke-width="0.95"/><line x1="148.6" y1="295.2" x2="148.6" y2="287.8" stroke="#806a22" stroke-width="0.95"/><line x1="160.6" y1="265.9" x2="160.6" y2="262.6" stroke="#806a22" stroke-width="0.95"/><line x1="172.6" y1="277.9" x2="172.6" y2="274.6" stroke="#806a22" stroke-width="0.95"/><line x1="184.6" y1="282.3" x2="184.6" y2="279.1" stroke="#806a22" stroke-width="0.95"/><line x1="196.7" y1="286.7" x2="196.7" y2="283.4" stroke="#806a22" stroke-width="0.95"/><line x1="208.7" y1="289.8" x2="208.7" y2="286.6" stroke="#806a22" stroke-width="0.95"/><line x1="220.7" y1="292.1" x2="220.7" y2="288.8" stroke="#806a22" stroke-width="0.95"/><line x1="232.7" y1="272.8" x2="232.7" y2="265.5" stroke="#806a22" stroke-width="0.95"/><line x1="244.7" y1="273.1" x2="244.7" y2="269.8" stroke="#806a22" stroke-width="0.95"/><line x1="256.7" y1="279.3" x2="256.7" y2="276.1" stroke="#806a22" stroke-width="0.95"/><line x1="268.8" y1="284.5" x2="268.8" y2="281.3" stroke="#806a22" stroke-width="0.95"/><line x1="280.8" y1="288.3" x2="280.8" y2="285.0" stroke="#806a22" stroke-width="0.95"/><line x1="292.8" y1="291.0" x2="292.8" y2="287.7" stroke="#806a22" stroke-width="0.95"/><line x1="304.8" y1="294.9" x2="304.8" y2="287.6" stroke="#806a22" stroke-width="0.95"/><line x1="316.8" y1="268.1" x2="316.8" y2="260.8" stroke="#806a22" stroke-width="0.95"/><line x1="328.9" y1="274.1" x2="328.9" y2="270.8" stroke="#806a22" stroke-width="0.95"/>
</g>
<rect x="25.45" y="257.71999999999997" width="330.5" height="40.9" fill="none" stroke="#5a5a5a" stroke-width="0.85"/>
<line x1="23.25" y1="271.9" x2="25.45" y2="271.9" stroke="#3a3a3a" stroke-width="0.6"/>
<text x="22.05" y="273.95" text-anchor="end">4</text>
<line x1="23.25" y1="288.2" x2="25.45" y2="288.2" stroke="#3a3a3a" stroke-width="0.6"/>
<text x="22.05" y="290.25" text-anchor="end">2</text>
<line x1="40.42" y1="298.61999999999995" x2="40.42" y2="300.81999999999994" stroke="#3a3a3a" stroke-width="0.6"/>
<text x="40.42" y="306.61999999999995" text-anchor="middle">0</text>
<line x1="100.51" y1="298.61999999999995" x2="100.51" y2="300.81999999999994" stroke="#3a3a3a" stroke-width="0.6"/>
<text x="100.51" y="306.61999999999995" text-anchor="middle">100</text>
<line x1="160.60" y1="298.61999999999995" x2="160.60" y2="300.81999999999994" stroke="#3a3a3a" stroke-width="0.6"/>
<text x="160.60" y="306.61999999999995" text-anchor="middle">200</text>
<line x1="220.69" y1="298.61999999999995" x2="220.69" y2="300.81999999999994" stroke="#3a3a3a" stroke-width="0.6"/>
<text x="220.69" y="306.61999999999995" text-anchor="middle">300</text>
<line x1="280.78" y1="298.61999999999995" x2="280.78" y2="300.81999999999994" stroke="#3a3a3a" stroke-width="0.6"/>
<text x="280.78" y="306.61999999999995" text-anchor="middle">400</text>
<line x1="340.87" y1="298.61999999999995" x2="340.87" y2="300.81999999999994" stroke="#3a3a3a" stroke-width="0.6"/>
<text x="340.87" y="306.61999999999995" text-anchor="middle">500</text>
<text transform="translate(15.9,278.16999999999996) rotate(-90)" text-anchor="middle"><tspan font-style="italic">z</tspan><tspan font-style="italic" font-size="4.3" dy="1.1">a</tspan></text>
<text x="25.45" y="256.91999999999996">1e−2</text>
<defs><clipPath id="c5"><rect x="25.45" y="314.79999999999995" width="330.5" height="40.9"/></clipPath></defs>
<g clip-path="url(#c5)">
<rect x="66.0" y="317.8" width="13.2" height="35.9" fill="#ff55aa" fill-opacity="0.1"/><rect x="145.3" y="317.8" width="13.2" height="35.9" fill="#ff55aa" fill-opacity="0.1"/><rect x="224.1" y="317.8" width="13.2" height="35.9" fill="#ff55aa" fill-opacity="0.1"/><rect x="304.0" y="317.8" width="13.2" height="35.9" fill="#ff55aa" fill-opacity="0.1"/><path d="M40.4,353.7 66.8,353.6 70.8,353.4 71.1,321.6 71.5,333.7 71.7,322.1 71.9,318.1 72.3,332.7 72.6,318.8 72.7,318.3 73.0,329.5 73.4,318.0 74.1,339.6 74.5,345.1 75.0,349.1 75.3,350.3 75.5,327.2 76.0,341.4 76.7,348.9 77.1,351.0 77.6,352.4 78.3,353.2 79.4,353.5 142.0,353.6 150.1,353.4 150.4,321.6 150.8,333.7 151.2,318.1 151.6,332.9 151.9,318.9 152.0,318.2 152.1,318.6 152.4,330.0 152.7,318.2 153.4,340.1 153.9,346.0 154.4,349.6 154.6,350.4 154.8,327.2 155.3,340.3 155.9,348.0 156.6,351.8 157.2,352.8 157.9,353.3 159.3,353.6 162.7,353.6 223.0,353.6 228.8,353.4 229.1,321.7 229.5,333.9 229.7,322.1 229.9,318.0 230.4,332.5 230.7,318.0 231.2,332.9 231.4,322.1 231.6,318.3 232.0,333.2 232.2,322.3 232.7,337.9 233.4,347.5 233.7,350.0 234.2,351.8 234.8,352.9 235.7,353.4 237.4,353.6 242.7,353.6 303.0,353.6 308.7,353.4 309.0,323.6 309.0,321.7 309.1,322.6 309.4,333.9 309.8,318.1 310.3,332.9 310.5,322.1 310.7,318.4 311.1,333.4 311.3,322.5 311.5,318.7 312.3,340.8 312.7,347.0 313.4,350.8 313.6,327.2 314.1,339.1 314.6,346.3 315.2,350.8 315.6,352.1 316.2,353.0 317.2,353.5 318.8,353.6 340.9,353.7" fill="none" stroke="#3a30e0" stroke-width="1.25" stroke-linejoin="round"/><path d="M52.4,353.6 67.6,353.6 70.9,353.4 71.2,321.6 71.7,333.7 71.8,322.1 72.1,318.1 72.5,332.7 72.8,318.8 72.9,318.3 73.2,329.5 73.6,318.0 74.3,339.6 74.7,345.1 75.2,349.1 75.5,350.3 75.6,327.2 76.2,341.4 76.8,348.9 77.3,351.0 77.8,352.4 78.5,353.2 79.6,353.5 142.2,353.6 150.3,353.4 150.6,321.6 151.0,333.7 151.3,318.1 151.8,332.9 152.1,318.9 152.2,318.2 152.2,318.6 152.5,330.0 152.9,318.2 153.6,340.1 154.1,346.0 154.5,349.6 154.8,350.4 155.0,327.2 155.4,340.3 156.0,348.0 156.8,351.8 157.4,352.8 158.1,353.3 159.5,353.6 162.9,353.6 224.3,353.6 230.1,353.4 230.4,321.7 230.8,333.9 231.0,322.1 231.3,318.0 231.7,332.5 232.0,318.0 232.5,332.9 232.7,322.1 232.9,318.3 233.4,333.2 233.5,322.3 234.0,337.9 234.7,347.5 235.1,350.0 235.5,351.8 236.1,352.9 237.0,353.4 238.5,353.6 243.1,353.6 304.3,353.6 310.0,353.4 310.3,323.6 310.3,321.7 310.4,322.6 310.8,333.9 311.1,318.1 311.6,332.9 311.8,322.1 312.0,318.4 312.4,333.4 312.6,322.5 312.9,318.7 313.6,340.8 314.1,347.0 314.7,350.8 315.0,327.2 315.4,339.1 315.9,346.3 316.5,350.8 317.0,352.1 317.5,352.9 318.4,353.4 320.0,353.6 340.9,353.7" fill="none" stroke="#7a4a28" stroke-width="1.25" stroke-dasharray="2.6,1.5" stroke-linejoin="round"/>
</g>
<rect x="25.45" y="314.79999999999995" width="330.5" height="40.9" fill="none" stroke="#5a5a5a" stroke-width="0.85"/>
<line x1="23.25" y1="321.5" x2="25.45" y2="321.5" stroke="#3a3a3a" stroke-width="0.6"/>
<text x="22.05" y="323.55" text-anchor="end">3</text>
<line x1="23.25" y1="332.5" x2="25.45" y2="332.5" stroke="#3a3a3a" stroke-width="0.6"/>
<text x="22.05" y="334.55" text-anchor="end">2</text>
<line x1="23.25" y1="343.4" x2="25.45" y2="343.4" stroke="#3a3a3a" stroke-width="0.6"/>
<text x="22.05" y="345.45" text-anchor="end">1</text>
<line x1="23.25" y1="354.1" x2="25.45" y2="354.1" stroke="#3a3a3a" stroke-width="0.6"/>
<text x="22.05" y="356.15000000000003" text-anchor="end">0</text>
<line x1="40.42" y1="355.69999999999993" x2="40.42" y2="357.8999999999999" stroke="#3a3a3a" stroke-width="0.6"/>
<text x="40.42" y="363.69999999999993" text-anchor="middle">0</text>
<line x1="100.51" y1="355.69999999999993" x2="100.51" y2="357.8999999999999" stroke="#3a3a3a" stroke-width="0.6"/>
<text x="100.51" y="363.69999999999993" text-anchor="middle">100</text>
<line x1="160.60" y1="355.69999999999993" x2="160.60" y2="357.8999999999999" stroke="#3a3a3a" stroke-width="0.6"/>
<text x="160.60" y="363.69999999999993" text-anchor="middle">200</text>
<line x1="220.69" y1="355.69999999999993" x2="220.69" y2="357.8999999999999" stroke="#3a3a3a" stroke-width="0.6"/>
<text x="220.69" y="363.69999999999993" text-anchor="middle">300</text>
<line x1="280.78" y1="355.69999999999993" x2="280.78" y2="357.8999999999999" stroke="#3a3a3a" stroke-width="0.6"/>
<text x="280.78" y="363.69999999999993" text-anchor="middle">400</text>
<line x1="340.87" y1="355.69999999999993" x2="340.87" y2="357.8999999999999" stroke="#3a3a3a" stroke-width="0.6"/>
<text x="340.87" y="363.69999999999993" text-anchor="middle">500</text>
<text transform="translate(16.6,335.24999999999994) rotate(-90)" text-anchor="middle"><tspan font-style="italic">r</tspan><tspan font-style="italic" font-size="4.3" dy="1.1">Ca</tspan></text>
<text x="25.45" y="313.99999999999994">1e−1</text>
<defs><clipPath id="c6"><rect x="25.45" y="371.88" width="330.5" height="40.9"/></clipPath></defs>
<g clip-path="url(#c6)">
<path d="M40.4,409.9 70.8,409.7 73.8,381.0 74.1,379.8 74.4,379.4 74.8,379.5 75.3,380.2 75.8,377.9 76.2,377.3 76.6,377.6 77.1,378.5 80.1,386.3 82.5,391.3 85.1,395.6 87.8,399.0 91.1,402.1 94.9,404.6 99.1,406.4 104.1,407.8 110.9,408.8 119.8,409.4 133.6,409.7 150.1,409.7 153.0,381.7 153.3,380.3 153.7,379.8 154.1,379.9 154.6,380.6 155.1,378.3 155.6,377.7 156.0,378.0 156.5,379.0 159.2,385.9 161.1,390.1 162.9,393.5 164.9,396.5 167.3,399.4 170.0,401.8 172.9,403.9 176.1,405.5 179.5,406.8 183.4,407.8 187.8,408.5 192.9,409.1 207.1,409.7 228.8,409.7 231.7,381.6 232.5,376.8 232.8,375.8 233.1,375.6 233.5,375.9 234.0,376.9 236.9,384.9 239.1,389.8 241.4,393.9 243.9,397.5 246.9,400.7 250.2,403.3 253.9,405.4 258.1,406.9 261.5,407.8 265.3,408.5 274.7,409.3 289.0,409.7 308.7,409.7 311.8,380.7 312.1,379.5 312.5,379.0 312.9,379.3 313.5,380.1 313.9,377.9 314.4,377.3 314.8,377.6 315.3,378.4 318.3,386.1 320.6,391.0 323.0,395.1 325.6,398.6 328.7,401.6 332.3,404.1 336.2,406.0 340.9,407.5" fill="none" stroke="#3a30e0" stroke-width="1.25" stroke-linejoin="round"/><path d="M52.4,409.9 70.9,409.7 74.0,381.0 74.3,379.8 74.6,379.4 75.0,379.5 75.5,380.2 75.9,377.9 76.4,377.3 76.8,377.6 77.3,378.5 80.3,386.3 82.7,391.3 85.2,395.6 88.0,399.0 91.3,402.1 95.0,404.6 99.3,406.4 104.3,407.8 111.1,408.8 120.0,409.4 133.9,409.7 150.3,409.7 153.2,381.7 153.5,380.3 153.9,379.8 154.3,379.9 154.8,380.6 155.3,378.3 155.7,377.7 156.2,378.0 156.6,379.0 159.3,385.9 161.3,390.1 163.1,393.5 165.2,396.5 167.6,399.5 170.3,401.9 173.2,404.0 176.5,405.6 179.9,406.9 183.8,407.8 188.2,408.6 193.5,409.1 207.9,409.7 230.1,409.7 233.1,381.6 233.8,376.8 234.1,375.8 234.4,375.6 234.8,375.9 235.3,376.9 238.2,384.9 240.4,389.8 242.7,393.9 245.2,397.5 248.2,400.7 251.5,403.3 255.2,405.4 259.4,406.9 262.8,407.8 266.6,408.5 276.0,409.3 290.3,409.7 310.0,409.7 313.2,380.7 313.5,379.5 313.8,379.0 314.3,379.3 314.8,380.1 315.3,377.9 315.8,377.3 316.2,377.6 316.7,378.6 319.5,386.0 321.8,390.8 324.0,394.7 326.6,398.1 329.6,401.2 332.9,403.7 336.6,405.6 340.9,407.1" fill="none" stroke="#7a4a28" stroke-width="1.25" stroke-dasharray="2.6,1.5" stroke-linejoin="round"/>
</g>
<rect x="25.45" y="371.88" width="330.5" height="40.9" fill="none" stroke="#5a5a5a" stroke-width="0.85"/>
<line x1="23.25" y1="375.2" x2="25.45" y2="375.2" stroke="#3a3a3a" stroke-width="0.6"/>
<text x="22.05" y="377.25" text-anchor="end">4</text>
<line x1="23.25" y1="393.0" x2="25.45" y2="393.0" stroke="#3a3a3a" stroke-width="0.6"/>
<text x="22.05" y="395.05" text-anchor="end">2</text>
<line x1="23.25" y1="411.0" x2="25.45" y2="411.0" stroke="#3a3a3a" stroke-width="0.6"/>
<text x="22.05" y="413.05" text-anchor="end">0</text>
<line x1="40.42" y1="412.78" x2="40.42" y2="414.97999999999996" stroke="#3a3a3a" stroke-width="0.6"/>
<text x="40.42" y="420.78" text-anchor="middle">0</text>
<line x1="100.51" y1="412.78" x2="100.51" y2="414.97999999999996" stroke="#3a3a3a" stroke-width="0.6"/>
<text x="100.51" y="420.78" text-anchor="middle">100</text>
<line x1="160.60" y1="412.78" x2="160.60" y2="414.97999999999996" stroke="#3a3a3a" stroke-width="0.6"/>
<text x="160.60" y="420.78" text-anchor="middle">200</text>
<line x1="220.69" y1="412.78" x2="220.69" y2="414.97999999999996" stroke="#3a3a3a" stroke-width="0.6"/>
<text x="220.69" y="420.78" text-anchor="middle">300</text>
<line x1="280.78" y1="412.78" x2="280.78" y2="414.97999999999996" stroke="#3a3a3a" stroke-width="0.6"/>
<text x="280.78" y="420.78" text-anchor="middle">400</text>
<line x1="340.87" y1="412.78" x2="340.87" y2="414.97999999999996" stroke="#3a3a3a" stroke-width="0.6"/>
<text x="340.87" y="420.78" text-anchor="middle">500</text>
<text transform="translate(15.450000000000001,392.33) rotate(-90)" text-anchor="middle"><tspan font-size="5.2">[<tspan font-style="italic">Ca</tspan>]</tspan></text>
<text x="25.45" y="371.08">1e−1</text>
<defs><clipPath id="c7"><rect x="25.45" y="428.96" width="330.5" height="40.9"/></clipPath></defs>
<g clip-path="url(#c7)">
<rect x="66.0" y="432.0" width="13.2" height="35.9" fill="#ff55aa" fill-opacity="0.1"/><rect x="145.3" y="432.0" width="13.2" height="35.9" fill="#ff55aa" fill-opacity="0.1"/><rect x="224.1" y="432.0" width="13.2" height="35.9" fill="#ff55aa" fill-opacity="0.1"/><rect x="304.0" y="432.0" width="13.2" height="35.9" fill="#ff55aa" fill-opacity="0.1"/><path d="M40.4,467.9 66.0,467.6 68.7,467.2 70.1,466.4 70.8,465.3 71.1,438.9 71.2,438.6 71.4,442.3 72.0,432.8 72.3,438.1 72.7,432.5 72.9,432.3 73.0,435.0 73.5,431.9 74.4,447.3 75.2,454.7 75.5,441.9 76.2,455.0 77.3,462.9 77.9,465.0 78.6,466.5 79.7,467.3 81.1,467.6 90.1,467.8 140.5,467.7 146.2,467.5 148.6,467.0 149.5,466.3 150.1,465.3 150.4,438.9 150.6,438.6 150.7,442.3 151.3,432.8 151.6,438.2 152.1,432.5 152.2,432.4 152.4,435.1 152.8,431.9 153.7,447.3 154.5,454.7 154.8,441.9 155.6,455.0 156.5,462.6 157.1,464.9 157.8,466.3 158.7,467.1 160.0,467.6 167.3,467.8 218.6,467.7 224.9,467.5 227.4,467.0 228.2,466.3 228.8,465.3 229.2,438.9 229.2,438.5 229.3,438.6 229.5,442.3 230.0,432.8 230.4,438.1 230.8,432.5 230.9,432.3 231.0,432.9 231.2,437.8 231.7,432.2 232.0,437.6 232.2,434.4 232.9,450.8 233.8,460.3 234.3,463.1 234.9,465.1 235.6,466.5 236.6,467.3 237.6,467.6 239.2,467.7 247.7,467.8 298.6,467.7 303.9,467.6 306.4,467.3 307.8,466.7 308.7,465.3 309.1,438.9 309.1,438.5 309.2,438.6 309.4,442.2 309.9,433.2 310.0,432.8 310.0,433.4 310.3,438.1 310.8,432.3 311.1,437.9 311.6,432.3 312.4,446.6 313.1,453.7 313.4,455.4 313.5,454.4 313.6,442.2 314.3,452.9 314.9,459.7 315.8,464.1 316.2,465.5 316.8,466.5 318.2,467.4 320.3,467.7 340.9,467.8" fill="none" stroke="#3a30e0" stroke-width="1.25" stroke-linejoin="round"/><path d="M52.4,467.7 67.4,467.5 69.5,467.0 70.6,465.9 70.9,465.3 71.3,438.9 71.4,438.6 71.6,442.3 72.1,432.8 72.5,438.1 72.9,432.5 73.0,432.3 73.2,435.0 73.7,431.9 74.6,447.3 75.4,454.7 75.6,441.9 76.4,455.0 77.4,462.9 78.0,465.0 78.8,466.5 79.8,467.3 81.3,467.6 90.2,467.8 140.7,467.7 146.4,467.5 148.8,467.0 149.7,466.3 150.3,465.3 150.6,438.9 150.7,438.6 150.9,442.3 151.5,432.8 151.8,438.2 152.2,432.5 152.4,432.4 152.5,435.1 153.0,431.9 153.9,447.3 154.7,454.7 155.0,441.9 155.7,455.0 156.7,462.6 157.3,464.9 158.0,466.3 158.9,467.1 160.2,467.6 167.5,467.8 219.8,467.7 226.2,467.5 228.7,467.0 229.5,466.3 230.1,465.3 230.5,438.9 230.5,438.5 230.6,438.6 230.8,442.3 231.3,432.8 231.7,438.1 232.1,432.5 232.2,432.3 232.3,432.9 232.5,437.8 233.0,432.2 233.3,437.6 233.5,434.4 234.3,450.8 235.1,460.3 235.6,463.1 236.2,465.1 236.9,466.5 237.9,467.3 239.0,467.6 240.5,467.7 249.0,467.8 299.9,467.7 305.2,467.6 307.7,467.3 309.1,466.7 310.0,465.3 310.4,438.9 310.5,438.5 310.5,438.6 310.8,442.2 311.2,433.2 311.3,432.8 311.4,433.4 311.6,438.1 312.1,432.3 312.4,437.9 312.9,432.3 313.7,446.6 314.4,453.7 314.7,455.4 314.8,454.4 315.0,442.2 315.6,452.9 316.2,459.7 317.0,463.9 317.5,465.3 318.1,466.4 319.4,467.3 321.5,467.7 340.9,467.8" fill="none" stroke="#7a4a28" stroke-width="1.25" stroke-dasharray="2.6,1.5" stroke-linejoin="round"/>
</g>
<rect x="25.45" y="428.96" width="330.5" height="40.9" fill="none" stroke="#5a5a5a" stroke-width="0.85"/>
<line x1="23.25" y1="434.8" x2="25.45" y2="434.8" stroke="#3a3a3a" stroke-width="0.6"/>
<text x="22.05" y="436.85" text-anchor="end">3</text>
<line x1="23.25" y1="445.9" x2="25.45" y2="445.9" stroke="#3a3a3a" stroke-width="0.6"/>
<text x="22.05" y="447.95" text-anchor="end">2</text>
<line x1="23.25" y1="456.9" x2="25.45" y2="456.9" stroke="#3a3a3a" stroke-width="0.6"/>
<text x="22.05" y="458.95" text-anchor="end">1</text>
<line x1="23.25" y1="468.1" x2="25.45" y2="468.1" stroke="#3a3a3a" stroke-width="0.6"/>
<text x="22.05" y="470.15000000000003" text-anchor="end">0</text>
<line x1="40.42" y1="469.85999999999996" x2="40.42" y2="472.05999999999995" stroke="#3a3a3a" stroke-width="0.6"/>
<text x="40.42" y="477.85999999999996" text-anchor="middle">0</text>
<line x1="100.51" y1="469.85999999999996" x2="100.51" y2="472.05999999999995" stroke="#3a3a3a" stroke-width="0.6"/>
<text x="100.51" y="477.85999999999996" text-anchor="middle">100</text>
<line x1="160.60" y1="469.85999999999996" x2="160.60" y2="472.05999999999995" stroke="#3a3a3a" stroke-width="0.6"/>
<text x="160.60" y="477.85999999999996" text-anchor="middle">200</text>
<line x1="220.69" y1="469.85999999999996" x2="220.69" y2="472.05999999999995" stroke="#3a3a3a" stroke-width="0.6"/>
<text x="220.69" y="477.85999999999996" text-anchor="middle">300</text>
<line x1="280.78" y1="469.85999999999996" x2="280.78" y2="472.05999999999995" stroke="#3a3a3a" stroke-width="0.6"/>
<text x="280.78" y="477.85999999999996" text-anchor="middle">400</text>
<line x1="340.87" y1="469.85999999999996" x2="340.87" y2="472.05999999999995" stroke="#3a3a3a" stroke-width="0.6"/>
<text x="340.87" y="477.85999999999996" text-anchor="middle">500</text>
<text transform="translate(16.6,449.40999999999997) rotate(-90)" text-anchor="middle"><tspan font-style="italic">c</tspan><tspan font-style="italic" font-size="4.3" dy="1.1">Ca</tspan></text>
<text x="25.45" y="428.15999999999997">1e−1</text>
<defs><clipPath id="c8"><rect x="25.45" y="486.03999999999996" width="330.5" height="40.9"/></clipPath></defs>
<g clip-path="url(#c8)">
<path d="M52.4,501.3 54.8,501.0 56.6,502.2 58.4,500.2 60.2,499.7 62.1,496.0 63.9,491.1 64.5,490.9 67.5,492.2 69.3,491.0 70.5,492.3 71.1,495.0 71.7,493.9 72.3,495.1 72.9,492.0 73.5,499.1 74.1,496.2 74.7,498.3 75.3,498.4 76.5,491.3 77.1,497.5 77.7,498.2 78.3,506.3 78.9,499.4 79.5,499.4 80.1,498.3 81.9,498.4 83.7,497.0 85.5,498.7 87.3,501.3 89.1,499.0 90.9,500.2 92.7,500.4 94.5,497.2 96.3,498.9 99.9,498.7 101.7,500.2 103.5,498.9 105.3,499.9 107.1,502.7 108.9,499.8 110.7,498.0 112.5,500.1 114.3,498.3 116.1,500.2 117.9,499.2 119.7,499.2 123.3,498.6 125.1,500.4 126.9,499.2 128.8,497.2 132.4,499.7 136.6,498.9 139.6,497.9 140.8,496.4 143.8,491.3 146.8,489.2 148.6,489.5 149.2,492.2 149.8,492.1 151.0,495.7 151.6,499.6 152.2,496.5 152.8,498.1 154.0,489.9 154.6,498.8 155.2,497.9 155.8,494.0 157.0,503.1 157.6,502.6 158.2,496.2 158.8,495.7 159.4,499.7 160.0,494.9 161.2,495.4 163.0,497.2 164.8,494.3 166.6,496.5 168.4,496.6 170.2,499.1 172.0,499.2 173.8,497.4 175.6,496.7 177.4,497.6 179.2,496.4 181.0,500.2 182.8,496.6 184.6,496.3 186.4,499.4 188.2,497.3 191.8,498.2 193.6,499.9 195.5,499.1 197.3,497.3 199.1,496.5 200.9,497.6 202.7,495.7 204.5,498.5 206.3,495.7 208.1,500.0 209.9,497.6 215.3,496.3 217.1,498.4 218.9,498.9 220.7,494.5 222.5,492.1 224.3,487.5 224.9,487.7 226.1,488.7 229.1,488.1 229.7,489.9 230.3,489.2 230.9,495.6 231.5,491.1 232.1,494.0 232.7,491.5 233.3,494.6 234.5,490.5 235.1,491.5 238.1,506.7 238.7,508.2 239.3,508.6 239.9,507.8 242.9,498.5 244.1,495.8 245.9,497.0 247.7,497.3 249.5,495.6 251.3,496.2 253.1,497.8 256.7,496.6 258.5,495.3 262.2,496.8 264.0,499.6 265.8,496.1 267.6,498.3 269.4,498.7 273.0,496.7 274.8,496.8 276.6,494.0 278.4,497.1 280.2,497.8 282.0,495.5 283.8,496.6 287.4,497.9 289.2,496.9 291.0,495.2 294.6,497.1 296.4,495.6 298.8,495.8 300.0,495.6 301.8,490.1 303.0,488.4 305.4,486.1 307.2,488.1 307.8,488.4 308.4,490.4 309.0,495.4 309.6,497.8 310.2,496.8 310.8,489.7 311.4,494.9 312.0,492.7 312.6,496.8 313.2,495.4 313.8,492.6 314.4,492.1 316.2,493.9 318.0,499.6 318.6,499.9 319.2,499.8 322.2,498.1 323.4,497.8 325.2,495.1 327.0,496.7 330.7,495.6 332.5,497.8 334.3,495.5 336.1,495.8 339.7,497.0 340.9,496.2 L340.9,502.8 339.7,503.6 336.1,502.3 334.3,502.1 332.5,504.4 330.7,502.2 327.0,503.4 325.2,502.0 323.4,505.2 321.6,506.7 318.0,512.6 316.2,510.7 314.4,512.8 313.8,514.5 312.6,520.7 312.0,517.3 311.4,520.0 310.8,515.0 310.2,522.1 309.6,522.8 307.8,511.2 305.4,503.9 304.2,502.2 302.4,500.9 301.8,501.0 300.0,504.3 296.4,502.6 294.6,503.8 291.0,501.7 289.2,503.5 287.4,504.5 283.8,503.2 282.0,502.1 280.2,504.3 278.4,503.7 276.6,500.5 274.8,503.4 273.0,503.3 269.4,505.3 267.6,504.8 265.8,502.7 264.0,506.2 262.2,503.3 258.5,501.9 256.7,503.2 253.1,504.4 251.3,502.8 249.5,502.2 247.7,504.0 245.9,503.8 244.1,502.9 242.9,506.1 239.3,519.6 238.7,520.2 238.1,519.8 237.5,518.6 235.1,510.9 234.5,511.3 233.3,517.6 232.7,515.4 232.1,518.6 231.5,516.3 230.9,521.0 230.3,514.5 229.7,515.0 229.1,512.6 227.3,510.2 226.1,507.8 224.3,502.7 223.7,502.7 222.5,503.9 220.7,503.8 218.9,506.8 217.1,505.5 215.3,503.1 209.9,504.2 208.1,506.5 206.3,502.3 204.5,505.1 202.7,502.3 200.9,504.2 199.1,503.0 197.3,503.9 195.5,505.6 193.6,506.5 191.8,504.8 188.2,503.9 186.4,506.0 184.6,502.8 182.8,503.2 181.0,506.8 179.2,503.0 177.4,504.2 175.6,503.3 173.8,504.0 172.0,505.8 170.2,505.7 168.4,503.3 166.6,503.4 164.8,501.6 163.0,505.6 161.2,505.6 160.0,506.9 159.4,512.7 158.8,509.9 158.2,511.7 157.6,519.3 157.0,521.2 155.8,514.7 155.2,519.8 154.6,521.9 154.0,513.9 152.8,523.3 152.2,521.8 151.6,525.0 151.0,520.7 149.8,515.9 149.2,515.0 148.6,511.2 146.2,506.0 144.4,503.6 143.2,503.0 139.6,505.5 134.2,505.8 132.4,506.3 128.8,503.8 126.9,505.8 125.1,507.0 123.3,505.1 119.7,505.8 117.9,505.8 116.1,506.8 114.3,504.9 112.5,506.7 110.7,504.6 108.9,506.3 107.1,509.3 105.3,506.4 103.5,505.4 101.7,506.8 99.9,505.3 96.3,505.4 94.5,503.8 92.7,507.0 90.9,506.8 89.1,505.7 87.3,508.2 85.5,506.1 83.7,505.4 80.1,511.3 78.9,514.9 78.3,523.1 77.7,516.3 77.1,516.9 76.5,512.0 75.3,521.4 74.7,522.3 74.1,520.9 73.5,524.3 72.9,517.4 72.3,520.5 71.7,518.9 71.1,519.5 70.5,516.1 69.3,512.7 67.5,510.0 65.1,503.9 63.9,501.9 60.2,507.3 58.4,507.2 56.6,508.9 54.8,507.7 52.4,507.8Z" fill="#ff4499" fill-opacity="0.09" stroke="none"/><path d="M40.4,504.1 69.9,504.0 72.4,503.7 76.2,502.5 79.4,502.2 148.7,502.1 151.5,501.8 155.7,500.4 158.9,500.1 226.1,500.1 229.2,500.0 233.4,499.5 236.4,499.4 306.7,499.4 316.0,498.9 340.9,498.9" fill="none" stroke="#4a3ae8" stroke-width="1.25" stroke-linejoin="round"/><path d="M52.4,504.5 54.8,504.3 56.6,505.6 58.4,503.7 60.2,503.5 62.1,500.4 63.4,497.2 64.1,496.6 64.9,497.2 67.5,501.1 68.4,501.7 69.3,501.8 70.8,504.8 71.1,507.2 71.2,506.7 71.8,506.3 72.3,508.0 72.9,504.7 73.4,512.1 74.0,508.1 74.7,510.3 75.0,509.6 75.6,510.1 76.1,503.5 76.7,501.5 77.2,508.7 77.7,507.1 78.3,514.7 78.8,507.1 79.4,507.2 79.9,504.5 80.3,504.8 80.4,504.4 81.9,503.5 83.7,501.2 85.5,502.4 87.3,504.7 89.1,502.4 90.9,503.5 92.7,503.7 94.5,500.5 96.3,502.2 99.9,502.0 101.7,503.5 103.5,502.2 105.3,503.2 107.1,506.0 108.9,503.0 110.7,501.3 112.5,503.4 114.3,501.6 116.1,503.5 117.9,502.5 119.7,502.5 123.3,501.8 125.1,503.7 126.9,502.5 128.8,500.5 132.4,503.0 139.6,501.7 143.1,497.6 144.2,497.2 146.8,498.1 148.6,500.4 148.8,503.4 149.0,503.7 149.7,503.5 150.2,505.8 150.7,506.8 151.8,514.1 152.4,506.3 152.9,512.0 153.4,505.0 154.0,501.9 154.5,510.3 155.1,510.5 155.6,503.2 156.2,506.0 156.7,512.4 157.2,511.9 157.8,510.5 158.3,502.3 158.9,502.9 159.4,506.2 160.0,500.9 161.2,500.5 163.0,501.4 164.8,498.0 166.6,499.9 168.4,499.9 170.2,502.4 172.0,502.5 173.8,500.7 175.6,500.0 177.4,500.9 179.2,499.7 181.0,503.5 182.8,499.9 184.6,499.5 186.4,502.7 188.2,500.6 191.8,501.5 193.6,503.2 195.5,502.4 197.3,500.6 199.1,499.7 200.9,500.9 202.7,499.0 204.5,501.8 206.3,499.0 208.1,503.3 209.9,500.9 215.3,499.7 217.1,501.9 218.9,502.8 220.7,499.2 222.5,498.0 224.3,495.1 226.1,498.3 228.9,500.3 228.9,501.1 229.2,499.8 229.7,502.5 230.2,500.9 230.8,510.5 231.3,500.0 231.9,511.2 232.4,500.4 232.9,505.6 233.3,506.1 234.3,500.9 235.1,501.2 237.5,511.5 238.3,513.6 239.0,514.3 239.9,512.9 242.9,502.3 244.1,499.4 245.9,500.4 247.7,500.6 249.5,498.9 251.3,499.5 253.1,501.1 256.7,499.9 258.5,498.6 262.2,500.1 264.0,502.9 265.8,499.4 267.6,501.6 269.4,502.0 273.0,500.0 274.8,500.1 276.6,497.3 278.4,500.4 280.2,501.0 282.0,498.8 283.8,499.9 287.4,501.2 289.2,500.2 291.0,498.4 294.6,500.5 296.4,499.1 300.0,500.0 301.8,495.5 302.9,494.8 304.5,494.7 305.4,495.0 307.2,499.0 308.2,500.3 309.2,509.9 309.7,510.3 310.3,509.3 310.8,502.3 311.4,508.0 311.9,503.5 312.4,509.6 313.0,508.1 314.2,501.7 314.4,502.5 316.2,502.3 318.1,506.1 319.0,505.6 321.8,502.4 323.4,501.5 325.2,498.6 327.0,500.1 330.7,498.9 332.5,501.1 334.3,498.8 336.1,499.0 339.7,500.3 340.9,499.5" fill="none" stroke="#7a5522" stroke-width="1.25" stroke-dasharray="2.6,1.5" stroke-linejoin="round"/><path d="M69.6,502.6 70.8,504.8 71.1,507.2 71.2,506.7 71.8,506.3 72.3,508.0 72.9,504.7 73.4,512.1 74.0,508.1 74.7,510.3 75.0,509.6 75.6,510.1 76.1,503.5 76.7,501.5 77.2,508.7 77.7,507.1 78.3,514.7 78.8,507.1 79.4,507.2 79.9,504.5 80.2,504.9 80.4,504.4" fill="none" stroke="#ff2a2a" stroke-width="0.9"/><path d="M148.9,503.7 149.7,503.5 150.2,505.8 150.7,506.8 151.8,514.1 152.4,506.3 152.9,512.0 153.4,505.0 154.0,501.9 154.5,510.3 155.1,510.5 155.6,503.2 156.2,506.0 156.7,512.4 157.2,511.9 157.8,510.5 158.3,502.3 158.9,502.9 159.4,506.2 159.8,502.6" fill="none" stroke="#ff2a2a" stroke-width="0.9"/><path d="M227.7,499.6 228.9,500.3 228.9,501.1 229.2,499.8 229.7,502.5 230.2,500.9 230.8,510.5 231.3,500.0 231.9,511.2 232.4,500.4 232.9,505.6 233.3,506.1 234.3,500.9 235.1,501.2 236.9,509.3 238.5,513.9" fill="none" stroke="#ff2a2a" stroke-width="0.9"/><path d="M307.6,499.5 308.2,500.3 308.7,503.1 309.2,509.9 309.5,510.3 309.8,510.2 310.3,509.3 310.8,502.3 311.4,508.0 311.9,503.5 312.4,509.6 313.0,508.1 314.2,501.7 314.4,502.5 316.2,502.3 317.7,505.5 318.0,506.1 318.4,506.0" fill="none" stroke="#ff2a2a" stroke-width="0.9"/><line x1="52.4" y1="511.1" x2="52.4" y2="498.0" stroke="#806a22" stroke-width="0.95"/><line x1="64.5" y1="503.4" x2="64.5" y2="490.2" stroke="#806a22" stroke-width="0.95"/><line x1="76.5" y1="515.8" x2="76.5" y2="487.6" stroke="#806a22" stroke-width="0.95"/><line x1="88.5" y1="509.7" x2="88.5" y2="496.6" stroke="#806a22" stroke-width="0.95"/><line x1="100.5" y1="509.1" x2="100.5" y2="495.9" stroke="#806a22" stroke-width="0.95"/><line x1="112.5" y1="510.0" x2="112.5" y2="496.8" stroke="#806a22" stroke-width="0.95"/><line x1="124.5" y1="509.6" x2="124.5" y2="496.5" stroke="#806a22" stroke-width="0.95"/><line x1="136.6" y1="508.8" x2="136.6" y2="495.7" stroke="#806a22" stroke-width="0.95"/><line x1="148.6" y1="514.5" x2="148.6" y2="486.3" stroke="#806a22" stroke-width="0.95"/><line x1="160.6" y1="507.3" x2="160.6" y2="494.1" stroke="#806a22" stroke-width="0.95"/><line x1="172.6" y1="508.5" x2="172.6" y2="495.3" stroke="#806a22" stroke-width="0.95"/><line x1="184.6" y1="506.1" x2="184.6" y2="493.0" stroke="#806a22" stroke-width="0.95"/><line x1="196.7" y1="507.8" x2="196.7" y2="494.6" stroke="#806a22" stroke-width="0.95"/><line x1="208.7" y1="509.0" x2="208.7" y2="495.9" stroke="#806a22" stroke-width="0.95"/><line x1="220.7" y1="505.7" x2="220.7" y2="492.6" stroke="#806a22" stroke-width="0.95"/><line x1="232.7" y1="517.5" x2="232.7" y2="489.3" stroke="#806a22" stroke-width="0.95"/><line x1="244.7" y1="506.1" x2="244.7" y2="492.9" stroke="#806a22" stroke-width="0.95"/><line x1="256.7" y1="506.4" x2="256.7" y2="493.3" stroke="#806a22" stroke-width="0.95"/><line x1="268.8" y1="508.4" x2="268.8" y2="495.2" stroke="#806a22" stroke-width="0.95"/><line x1="280.8" y1="506.9" x2="280.8" y2="493.7" stroke="#806a22" stroke-width="0.95"/><line x1="292.8" y1="506.0" x2="292.8" y2="492.8" stroke="#806a22" stroke-width="0.95"/><line x1="304.8" y1="508.8" x2="304.8" y2="480.6" stroke="#806a22" stroke-width="0.95"/><line x1="316.8" y1="517.9" x2="316.8" y2="489.7" stroke="#806a22" stroke-width="0.95"/><line x1="328.9" y1="505.9" x2="328.9" y2="492.8" stroke="#806a22" stroke-width="0.95"/>
</g>
<rect x="25.45" y="486.03999999999996" width="330.5" height="40.9" fill="none" stroke="#5a5a5a" stroke-width="0.85"/>
<line x1="23.25" y1="487.9" x2="25.45" y2="487.9" stroke="#3a3a3a" stroke-width="0.6"/>
<text x="22.05" y="489.95" text-anchor="end">2</text>
<line x1="23.25" y1="506.6" x2="25.45" y2="506.6" stroke="#3a3a3a" stroke-width="0.6"/>
<text x="22.05" y="508.65000000000003" text-anchor="end">0</text>
<line x1="23.25" y1="525.5" x2="25.45" y2="525.5" stroke="#3a3a3a" stroke-width="0.6"/>
<text x="22.05" y="527.55" text-anchor="end">−2</text>
<line x1="40.42" y1="526.9399999999999" x2="40.42" y2="529.14" stroke="#3a3a3a" stroke-width="0.6"/>
<text x="40.42" y="534.9399999999999" text-anchor="middle">0</text>
<line x1="100.51" y1="526.9399999999999" x2="100.51" y2="529.14" stroke="#3a3a3a" stroke-width="0.6"/>
<text x="100.51" y="534.9399999999999" text-anchor="middle">100</text>
<line x1="160.60" y1="526.9399999999999" x2="160.60" y2="529.14" stroke="#3a3a3a" stroke-width="0.6"/>
<text x="160.60" y="534.9399999999999" text-anchor="middle">200</text>
<line x1="220.69" y1="526.9399999999999" x2="220.69" y2="529.14" stroke="#3a3a3a" stroke-width="0.6"/>
<text x="220.69" y="534.9399999999999" text-anchor="middle">300</text>
<line x1="280.78" y1="526.9399999999999" x2="280.78" y2="529.14" stroke="#3a3a3a" stroke-width="0.6"/>
<text x="280.78" y="534.9399999999999" text-anchor="middle">400</text>
<line x1="340.87" y1="526.9399999999999" x2="340.87" y2="529.14" stroke="#3a3a3a" stroke-width="0.6"/>
<text x="340.87" y="534.9399999999999" text-anchor="middle">500</text>
<text transform="translate(11.200000000000001,506.48999999999995) rotate(-90)" text-anchor="middle"><tspan font-style="italic">g</tspan><tspan font-style="italic" font-size="4.3" dy="1.1">AHP</tspan></text>
<text x="25.45" y="485.23999999999995">1e−4</text>
<text x="190.64" y="541.8" text-anchor="middle">Time (ms)</text>
<rect x="301.2" y="6.3" width="54.6" height="17.4" rx="1.2" fill="#fff" fill-opacity="0.8" stroke="#d6d6d6" stroke-width="0.6"/>
<line x1="303.4" y1="10.6" x2="313.8" y2="10.6" stroke="#1a1aff" stroke-width="1.2"/>
<line x1="303.4" y1="18.1" x2="313.8" y2="18.1" stroke="#ff1a1a" stroke-width="1.2" stroke-dasharray="2.6,1.5"/>
<text x="317.9" y="12.5" style="font-size:5.45px">HH Model</text>
<text x="317.9" y="20.0" style="font-size:5.45px">LSTM Network</text>
</svg>
</body></html>
